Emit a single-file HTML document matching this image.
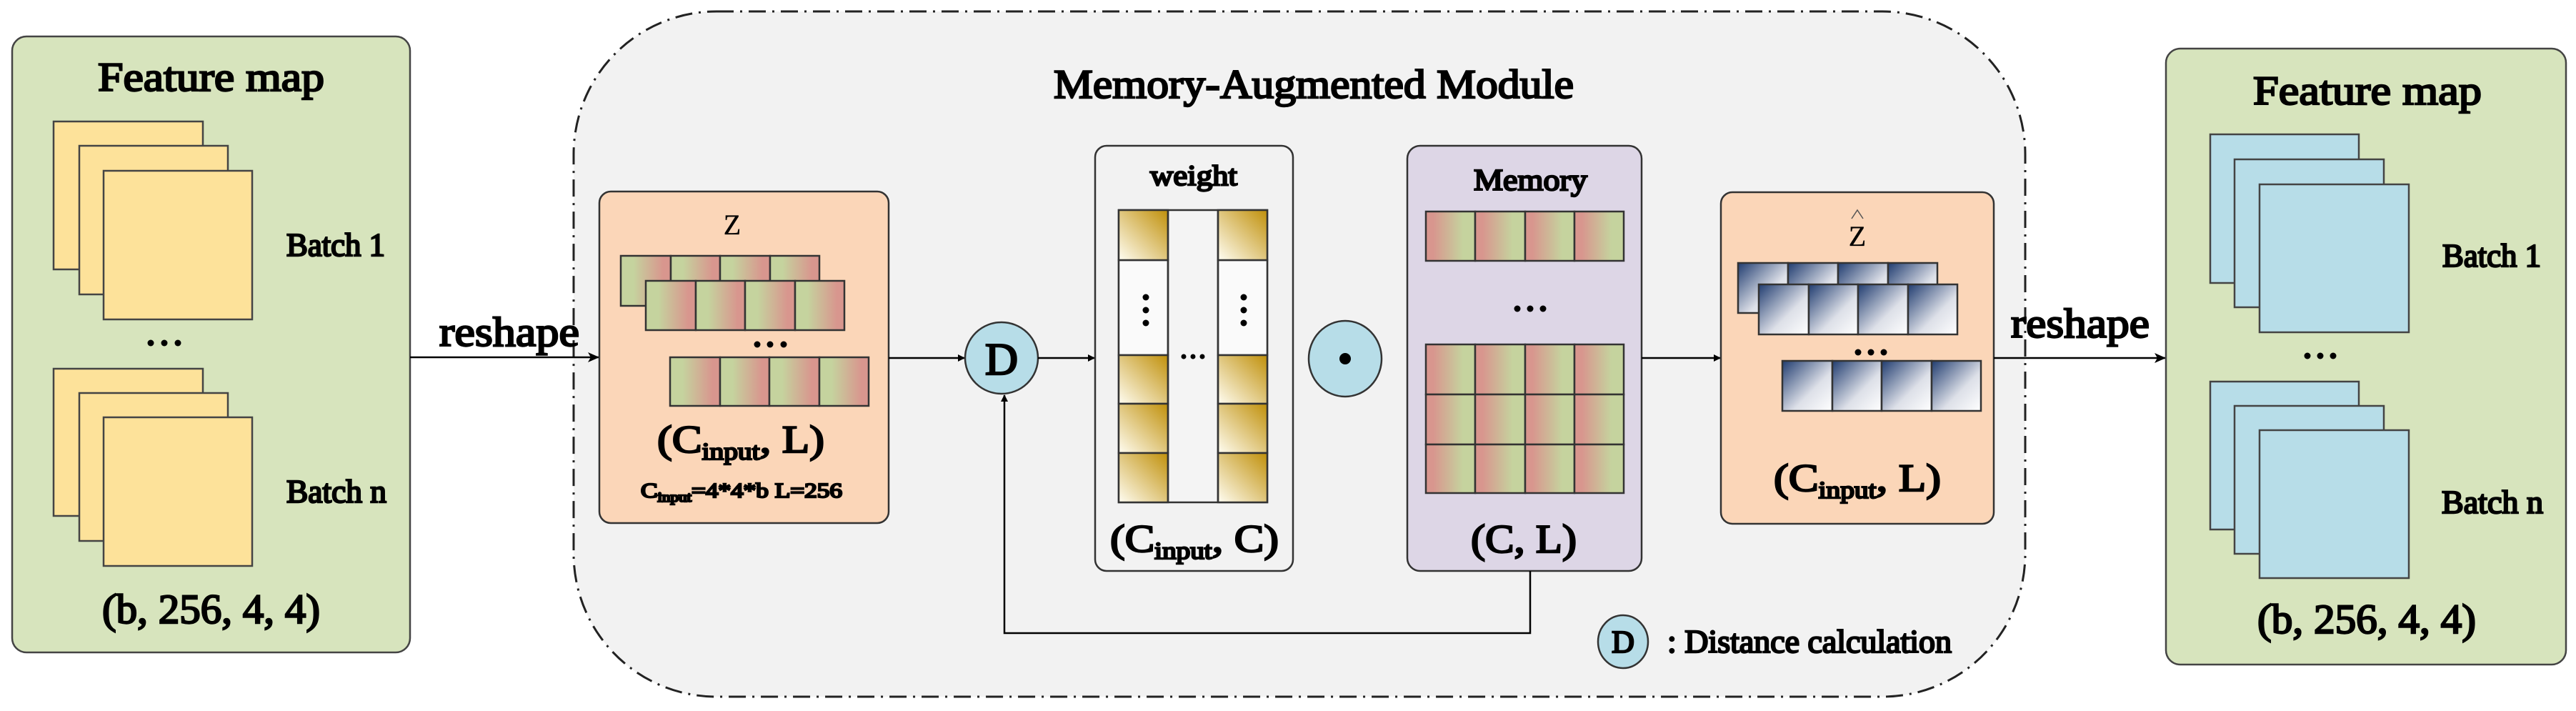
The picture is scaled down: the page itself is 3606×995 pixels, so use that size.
<!DOCTYPE html>
<html><head><meta charset="utf-8"><style>
html,body{margin:0;padding:0;background:#fff;}
svg{display:block;}
text{font-family:"Liberation Serif","DejaVu Serif",serif;font-weight:normal;fill:#000;stroke:#000;stroke-width:2.4;paint-order:stroke;}
text.thin{stroke-width:0.3;}
</style></head><body>
<svg width="3606" height="995" viewBox="0 0 3606 995" xmlns="http://www.w3.org/2000/svg">
<defs>
<linearGradient id="gr" x1="0" y1="0" x2="1" y2="0">
<stop offset="0.25" stop-color="#c5d39e"/><stop offset="0.85" stop-color="#d8968e"/></linearGradient>
<linearGradient id="rg" x1="0" y1="0" x2="1" y2="0">
<stop offset="0.15" stop-color="#d8968e"/><stop offset="0.75" stop-color="#c5d39e"/></linearGradient>
<linearGradient id="gold" x1="1" y1="0" x2="0" y2="1">
<stop offset="0" stop-color="#c0900a"/><stop offset="1" stop-color="#fffdf2"/></linearGradient>
<linearGradient id="navy" x1="0" y1="0" x2="1" y2="1">
<stop offset="0" stop-color="#203c70"/><stop offset="0.6" stop-color="#dde0e8"/><stop offset="1" stop-color="#ffffff"/></linearGradient>
<marker id="ar" markerWidth="10" markerHeight="10" refX="9" refY="5" orient="auto" markerUnits="userSpaceOnUse">
<path d="M0,0 L10,5 L0,10 z" fill="#000"/></marker>
<marker id="arb" markerWidth="16" markerHeight="14" refX="15" refY="7" orient="auto" markerUnits="userSpaceOnUse">
<path d="M0,0 L16,7 L0,14 L4,7 z" fill="#000"/></marker>
</defs>
<rect width="3606" height="995" fill="#fff"/>

<rect x="803" y="16" width="2032" height="959" rx="200" ry="200" fill="#f2f2f2" stroke="#222" stroke-width="3" stroke-dasharray="24 9 3 9"/>
<text x="1475" y="137" font-size="57" textLength="728" lengthAdjust="spacingAndGlyphs">Memory-Augmented Module</text>

<rect x="17" y="51" width="557" height="862" rx="20" fill="#d7e4bd" stroke="#444" stroke-width="2.5"/>
<text x="137" y="127" font-size="57" textLength="317" lengthAdjust="spacingAndGlyphs">Feature map</text>
<g fill="#fde29a" stroke="#444" stroke-width="2.5">
<rect x="75" y="170" width="209" height="207"/><rect x="111" y="204" width="208" height="208"/><rect x="145" y="239" width="208" height="208"/>
<rect x="75" y="516" width="209" height="206"/><rect x="111" y="550" width="208" height="207"/><rect x="145" y="584" width="208" height="208"/>
</g>
<text x="401" y="358" font-size="45" textLength="138" lengthAdjust="spacingAndGlyphs">Batch 1</text>
<text x="401" y="703" font-size="45" textLength="140" lengthAdjust="spacingAndGlyphs">Batch n</text>
<g fill="#000"><circle cx="211" cy="480" r="4.5"/><circle cx="230" cy="480" r="4.5"/><circle cx="249" cy="480" r="4.5"/></g>
<text x="143" y="872" font-size="58" textLength="305" lengthAdjust="spacingAndGlyphs">(b, 256, 4, 4)</text>

<line x1="574" y1="500" x2="838" y2="500" stroke="#000" stroke-width="2.5" marker-end="url(#arb)"/>
<text x="615" y="484" font-size="58" textLength="196" lengthAdjust="spacingAndGlyphs">reshape</text>

<rect x="839" y="268" width="405" height="464" rx="16" fill="#fbd6b8" stroke="#333" stroke-width="2.5"/>
<text class="thin" x="1025" y="328" font-size="40" text-anchor="middle">Z</text>
<g stroke="#333" stroke-width="2.5" fill="url(#gr)">
<rect x="869" y="358" width="70" height="70"/><rect x="939" y="358" width="69" height="70"/><rect x="1008" y="358" width="70" height="70"/><rect x="1078" y="358" width="69" height="70"/>
<rect x="904" y="393" width="70" height="69"/><rect x="974" y="393" width="69" height="69"/><rect x="1043" y="393" width="70" height="69"/><rect x="1113" y="393" width="69" height="69"/>
<rect x="938" y="500" width="70" height="68"/><rect x="1008" y="500" width="69" height="68"/><rect x="1077" y="500" width="70" height="68"/><rect x="1147" y="500" width="69" height="68"/>
</g>
<g fill="#000"><circle cx="1060" cy="482" r="4.5"/><circle cx="1078" cy="482" r="4.5"/><circle cx="1097" cy="482" r="4.5"/></g>
<text x="920" y="633" font-size="54" textLength="234" lengthAdjust="spacingAndGlyphs">(C<tspan font-size="34" dy="10">input</tspan><tspan dy="-10">, L)</tspan></text>
<text x="897" y="696" font-size="29" stroke-width="1" textLength="282" lengthAdjust="spacingAndGlyphs">C<tspan font-size="19" dy="6">input</tspan><tspan dy="-6">=4*4*b L=256</tspan></text>

<line x1="1244" y1="501" x2="1350" y2="501" stroke="#000" stroke-width="2.5" marker-end="url(#ar)"/>
<ellipse cx="1402" cy="501" rx="51" ry="50" fill="#b7dde8" stroke="#333" stroke-width="2.5"/>
<text x="1402" y="524" font-size="64" text-anchor="middle" stroke-width="3">D</text>
<line x1="1453" y1="501" x2="1532" y2="501" stroke="#000" stroke-width="2.5" marker-end="url(#ar)"/>

<rect x="1533" y="204" width="277" height="595" rx="16" fill="#f2f2f2" stroke="#333" stroke-width="2.5"/>
<text x="1610" y="259" font-size="40" stroke-width="1.6" textLength="122" lengthAdjust="spacingAndGlyphs">weight</text>
<g stroke="#333" stroke-width="2.5">
<rect x="1566" y="294" width="208" height="409" fill="#f4f4f4"/>
<rect x="1566" y="364" width="69" height="133" fill="#fafafa"/><rect x="1705" y="364" width="69" height="133" fill="#fafafa"/>
<g fill="url(#gold)">
<rect x="1566" y="294" width="69" height="70"/><rect x="1705" y="294" width="69" height="70"/>
<rect x="1566" y="497" width="69" height="68"/><rect x="1705" y="497" width="69" height="68"/>
<rect x="1566" y="565" width="69" height="69"/><rect x="1705" y="565" width="69" height="69"/>
<rect x="1566" y="634" width="69" height="69"/><rect x="1705" y="634" width="69" height="69"/>
</g>
<line x1="1635" y1="294" x2="1635" y2="703"/><line x1="1705" y1="294" x2="1705" y2="703"/>
</g>
<g fill="#000">
<circle cx="1604" cy="416" r="4.5"/><circle cx="1604" cy="434" r="4.5"/><circle cx="1604" cy="452" r="4.5"/>
<circle cx="1741" cy="416" r="4.5"/><circle cx="1741" cy="434" r="4.5"/><circle cx="1741" cy="452" r="4.5"/>
<circle cx="1657" cy="499" r="3.5"/><circle cx="1670" cy="499" r="3.5"/><circle cx="1683" cy="499" r="3.5"/>
</g>
<text x="1554" y="772" font-size="54" textLength="236" lengthAdjust="spacingAndGlyphs">(C<tspan font-size="34" dy="10">input</tspan><tspan dy="-10">, C)</tspan></text>

<ellipse cx="1883" cy="502" rx="51" ry="53" fill="#b7dde8" stroke="#333" stroke-width="2.5"/>
<circle cx="1883" cy="502" r="8" fill="#000"/>

<rect x="1970" y="204" width="328" height="595" rx="18" fill="#ddd6e6" stroke="#333" stroke-width="2.5"/>
<text x="2063" y="266" font-size="42" stroke-width="1.4" textLength="159" lengthAdjust="spacingAndGlyphs">Memory</text>
<g stroke="#333" stroke-width="2.5" fill="url(#rg)">
<rect x="1996" y="296" width="69" height="69"/><rect x="2065" y="296" width="70" height="69"/><rect x="2135" y="296" width="69" height="69"/><rect x="2204" y="296" width="69" height="69"/>
<rect x="1996" y="482" width="69" height="70"/><rect x="2065" y="482" width="70" height="70"/><rect x="2135" y="482" width="69" height="70"/><rect x="2204" y="482" width="69" height="70"/>
<rect x="1996" y="552" width="69" height="70"/><rect x="2065" y="552" width="70" height="70"/><rect x="2135" y="552" width="69" height="70"/><rect x="2204" y="552" width="69" height="70"/>
<rect x="1996" y="622" width="69" height="68"/><rect x="2065" y="622" width="70" height="68"/><rect x="2135" y="622" width="69" height="68"/><rect x="2204" y="622" width="69" height="68"/>
</g>
<g fill="#000"><circle cx="2124" cy="432" r="4.5"/><circle cx="2142" cy="432" r="4.5"/><circle cx="2160" cy="432" r="4.5"/></g>
<text x="2059" y="773" font-size="56" textLength="148" lengthAdjust="spacingAndGlyphs">(C, L)</text>

<polyline points="2142,799 2142,886 1406,886 1406,553" fill="none" stroke="#000" stroke-width="2.5" marker-end="url(#ar)"/>

<line x1="2298" y1="501" x2="2408" y2="501" stroke="#000" stroke-width="2.5" marker-end="url(#ar)"/>

<rect x="2409" y="269" width="382" height="464" rx="16" fill="#fbd6b8" stroke="#333" stroke-width="2.5"/>
<text class="thin" x="2600" y="344" font-size="40" text-anchor="middle">Z</text>
<polyline points="2592,306 2600,294 2608,306" fill="none" stroke="#555" stroke-width="1.5"/>
<g stroke="#333" stroke-width="2.5" fill="url(#navy)">
<rect x="2433" y="368" width="70" height="70"/><rect x="2503" y="368" width="70" height="70"/><rect x="2573" y="368" width="70" height="70"/><rect x="2643" y="368" width="69" height="70"/>
<rect x="2462" y="398" width="70" height="70"/><rect x="2532" y="398" width="69" height="70"/><rect x="2601" y="398" width="70" height="70"/><rect x="2671" y="398" width="69" height="70"/>
<rect x="2495" y="505" width="70" height="70"/><rect x="2565" y="505" width="69" height="70"/><rect x="2634" y="505" width="70" height="70"/><rect x="2704" y="505" width="69" height="70"/>
</g>
<g fill="#000"><circle cx="2601" cy="493" r="4.5"/><circle cx="2619" cy="493" r="4.5"/><circle cx="2637" cy="493" r="4.5"/></g>
<text x="2483" y="687" font-size="54" textLength="234" lengthAdjust="spacingAndGlyphs">(C<tspan font-size="34" dy="10">input</tspan><tspan dy="-10">, L)</tspan></text>

<ellipse cx="2272" cy="898" rx="35" ry="37" fill="#b7dde8" stroke="#333" stroke-width="2.5"/>
<text x="2272" y="913" font-size="44" text-anchor="middle" stroke-width="1.6">D</text>
<text x="2334" y="913" font-size="45" stroke-width="1.8" textLength="398" lengthAdjust="spacingAndGlyphs">: Distance calculation</text>

<line x1="2791" y1="501" x2="3031" y2="501" stroke="#000" stroke-width="2.5" marker-end="url(#arb)"/>
<text x="2815" y="472" font-size="58" textLength="194" lengthAdjust="spacingAndGlyphs">reshape</text>

<rect x="3032" y="68" width="560" height="862" rx="20" fill="#d7e4bd" stroke="#444" stroke-width="2.5"/>
<text x="3154" y="146" font-size="57" textLength="320" lengthAdjust="spacingAndGlyphs">Feature map</text>
<g fill="#b7dde8" stroke="#444" stroke-width="2.5">
<rect x="3094" y="188" width="208" height="208"/><rect x="3128" y="223" width="209" height="207"/><rect x="3163" y="258" width="209" height="207"/>
<rect x="3094" y="534" width="208" height="207"/><rect x="3128" y="568" width="209" height="207"/><rect x="3163" y="602" width="209" height="207"/>
</g>
<text x="3419" y="373" font-size="45" textLength="138" lengthAdjust="spacingAndGlyphs">Batch 1</text>
<text x="3418" y="718" font-size="45" textLength="142" lengthAdjust="spacingAndGlyphs">Batch n</text>
<g fill="#000"><circle cx="3230" cy="498" r="4.5"/><circle cx="3248" cy="498" r="4.5"/><circle cx="3266" cy="498" r="4.5"/></g>
<text x="3160" y="886" font-size="58" textLength="306" lengthAdjust="spacingAndGlyphs">(b, 256, 4, 4)</text>
</svg>
</body></html>
